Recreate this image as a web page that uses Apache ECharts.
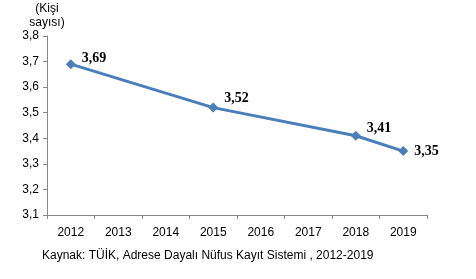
<!DOCTYPE html>
<html>
<head>
<meta charset="utf-8">
<script src="https://cdn.jsdelivr.net/npm/echarts@6/dist/echarts.min.js"></script>
<style>
    html, body { margin: 0; padding: 0; background: #fff; }
    #chart { width: 476px; height: 279px; }
</style>
</head>
<body>
<div id="chart"></div>
<script>
    // yillar ve ortalama hane halki buyuklugu
    var years = ['2012', '2013', '2014', '2015', '2016', '2017', '2018', '2019'];
    var values = [3.69, null, null, 3.52, null, null, 3.41, 3.35];
    var yTicks = { min: 3.1, max: 3.8, step: 0.1 };
    var sourceText = 'Kaynak: TÜİK, Adrese Dayalı Nüfus Kayıt Sistemi , 2012-2019';

    // etiketlerin dikey kaymasi (noktaya gore)
    var labelShift = [-6, 0, 0, -9, 0, 0, -7, 0];

    function fmt(v) {
        return v.toFixed(1).replace('.', ',');
    }

    var seriesData = values.map(function (v, i) {
        if (v === null) return null;
        return { value: v, label: { offset: [1, labelShift[i]] } };
    });

    var chart = echarts.init(document.getElementById('chart'));
    chart.setOption({
        animation: false,
        grid: { left: 47, right: 49, top: 36, bottom: 64 },
        graphic: [
            {
                type: 'text',
                left: 42,
                top: 250,
                style: {
                    text: sourceText,
                    font: '12px "Liberation Sans", Arial, sans-serif',
                    fill: '#000'
                }
            }
        ],
        xAxis: {
            type: 'category',
            data: years,
            boundaryGap: true,
            axisLine: { lineStyle: { color: '#888', width: 1 } },
            axisTick: { show: true, length: 4, lineStyle: { color: '#888' } },
            axisLabel: {
                color: '#000',
                fontSize: 12,
                fontFamily: '"Liberation Sans", Arial, sans-serif',
                margin: 12
            }
        },
        yAxis: {
            type: 'value',
            min: yTicks.min,
            max: yTicks.max,
            interval: yTicks.step,
            name: '(Kişi\nsayısı)',
            nameLocation: 'end',
            nameGap: 4,
            nameTextStyle: {
                color: '#000',
                fontSize: 12,
                fontFamily: '"Liberation Sans", Arial, sans-serif',
                align: 'center',
                lineHeight: 14
            },
            axisLine: { show: true, lineStyle: { color: '#888', width: 1 } },
            axisTick: { show: true, length: 4, lineStyle: { color: '#888' } },
            splitLine: { show: false },
            axisLabel: {
                color: '#000',
                fontSize: 12,
                fontFamily: '"Liberation Sans", Arial, sans-serif',
                margin: 8,
                formatter: fmt
            }
        },
        series: [
            {
                type: 'line',
                data: seriesData,
                connectNulls: true,
                symbol: 'diamond',
                symbolSize: 10,
                lineStyle: { color: '#4a7ebb', width: 3 },
                itemStyle: { color: '#4a7ebb' },
                label: {
                    show: true,
                    position: 'right',
                    distance: 5,
                    color: '#000',
                    fontSize: 14,
                    fontWeight: 'bold',
                    fontFamily: '"Liberation Serif", "Times New Roman", serif',
                    formatter: function (p) {
                        return p.value.toFixed(2).replace('.', ',');
                    }
                }
            }
        ]
    });
</script>
</body>
</html>
